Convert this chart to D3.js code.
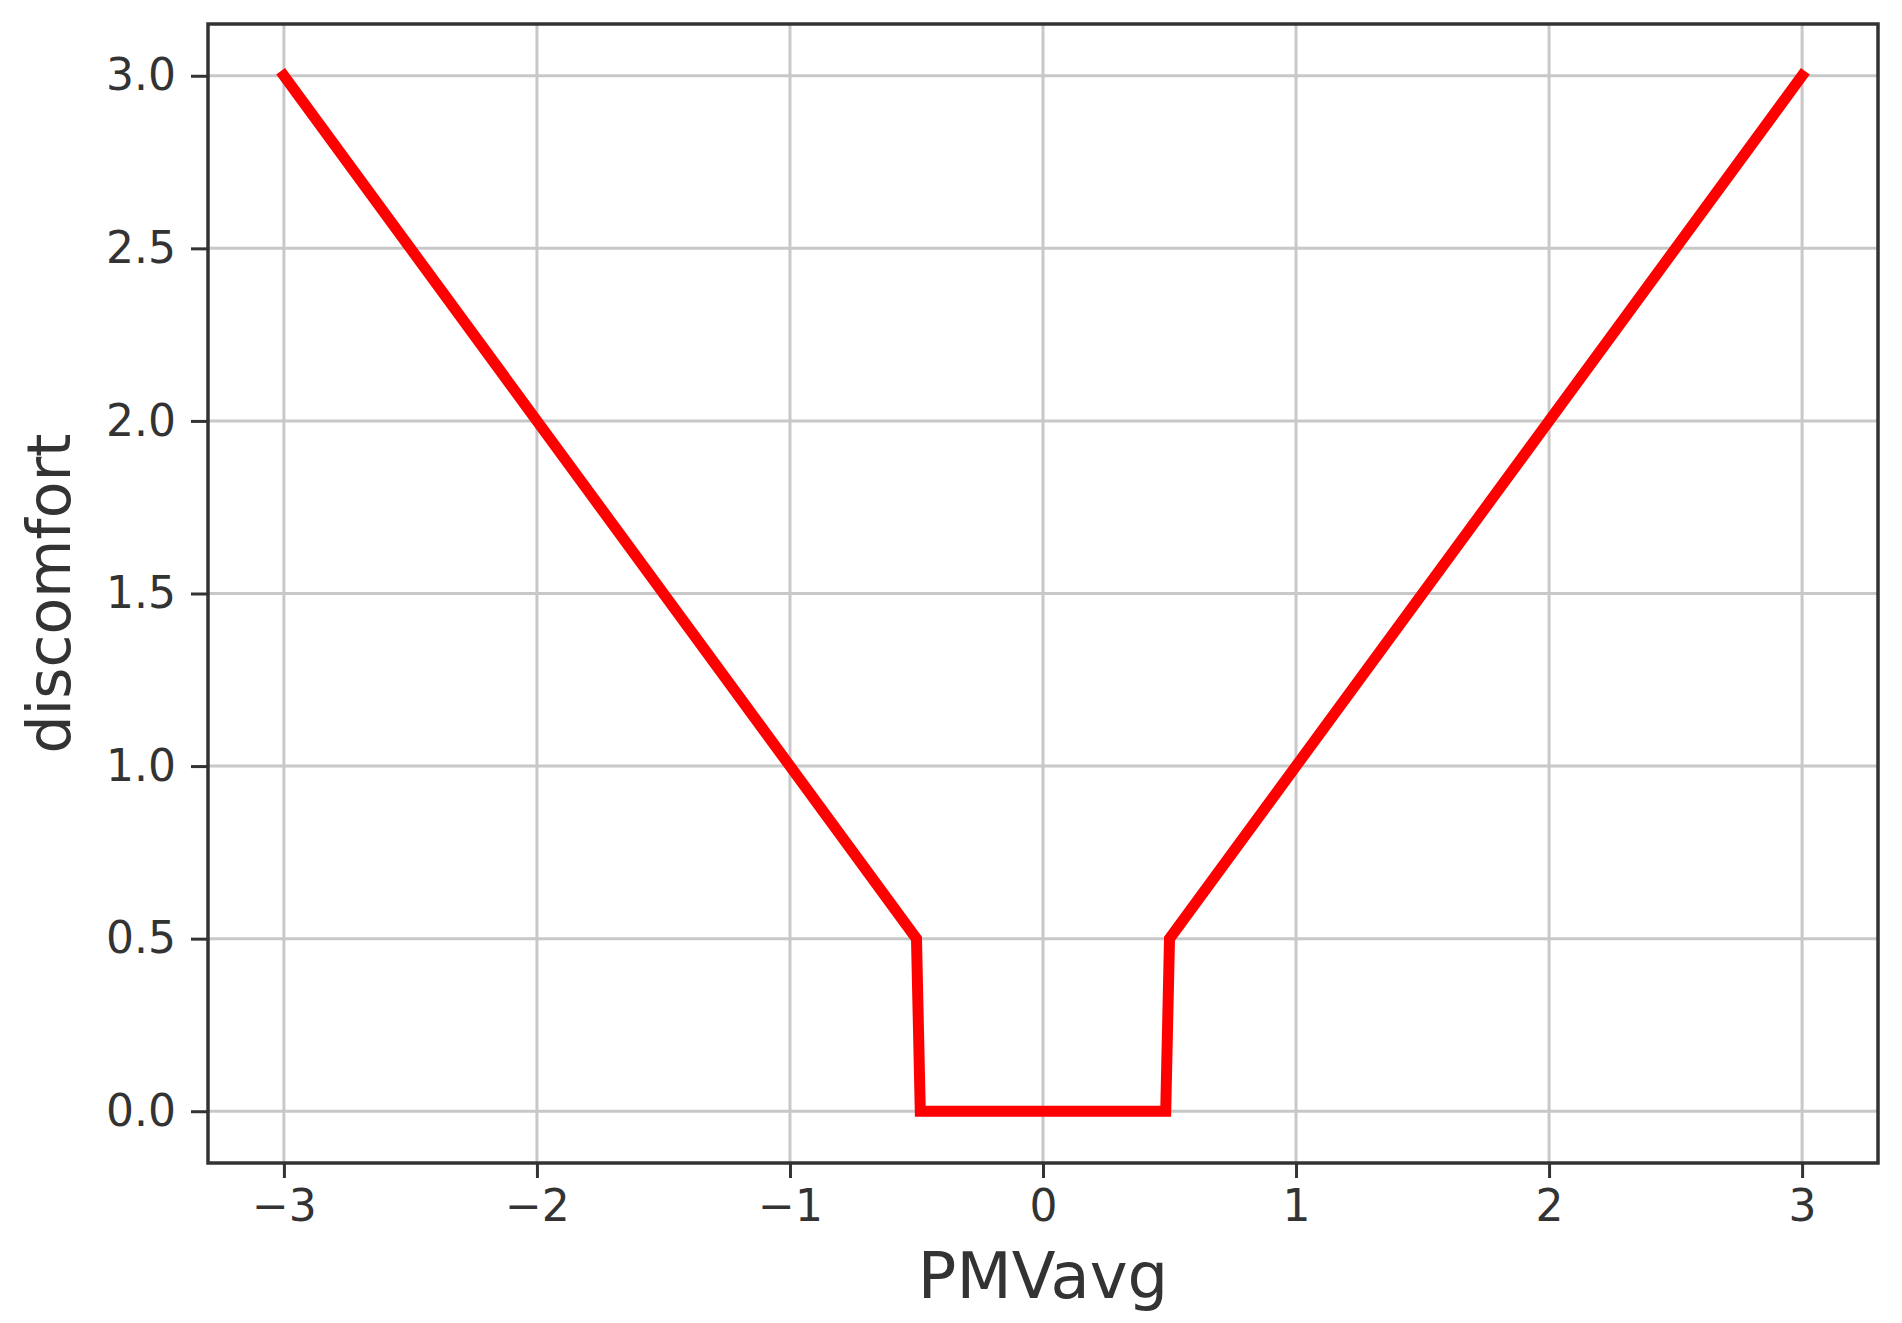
<!DOCTYPE html>
<html lang="en">
<head>
    <meta charset="UTF-8">
    <title>discomfort vs PMVavg</title>
    <script src="https://d3js.org/d3.v7.min.js"></script>
    <style>
    body{
        margin: 0;
        background: #fff;
    }
    svg text {
        font-family: "DejaVu Sans", sans-serif;
        fill: #333;
    }
    .axis path { display: none; }
    .axis line { stroke: #333; stroke-width: 3; }
    .axis text { font-size: 44px; }
    .grid line { stroke: #c8c8c8; stroke-width: 3; }
    </style>
</head>
<body>
    <script>
    var width = 1902;
    var height = 1323;
    var plotLeft = 208, plotRight = 1878, plotTop = 24, plotBottom = 1163;

    // data
    var pmv = [-3, -0.5, -0.485, 0.485, 0.5, 3];
    var discomfort = [3, 0.5, 0, 0, 0.5, 3];
    var xTicks = [-3, -2, -1, 0, 1, 2, 3];
    var yTicks = [0, 0.5, 1, 1.5, 2, 2.5, 3];

    var svg = d3.select("body")
        .append("svg")
        .attr("width", width)
        .attr("height", height);

    // scales
    var xScale = d3.scaleLinear()
        .domain([-3.3, 3.3])
        .range([plotLeft, plotRight]);

    var yScale = d3.scaleLinear()
        .domain([-0.15, 3.15])
        .range([plotBottom, plotTop]);

    // grid
    svg.append("g").attr("class", "grid")
        .selectAll("line").data(xTicks).enter()
        .append("line")
        .attr("x1", function(d) { return xScale(d); })
        .attr("x2", function(d) { return xScale(d); })
        .attr("y1", plotTop).attr("y2", plotBottom);

    svg.append("g").attr("class", "grid")
        .selectAll("line").data(yTicks).enter()
        .append("line")
        .attr("y1", function(d) { return yScale(d); })
        .attr("y2", function(d) { return yScale(d); })
        .attr("x1", plotLeft).attr("x2", plotRight);

    // axes
    var xAxis = d3.axisBottom(xScale)
        .tickValues(xTicks)
        .tickFormat(d3.format("d"))
        .tickSize(15)
        .tickPadding(12);

    var yAxis = d3.axisLeft(yScale)
        .tickValues(yTicks)
        .tickFormat(d3.format(".1f"))
        .tickSize(17)
        .tickPadding(15);

    svg.append("g")
        .attr("class", "axis")
        .attr("transform", "translate(0," + plotBottom + ")")
        .call(xAxis);

    svg.append("g")
        .attr("class", "axis")
        .attr("transform", "translate(" + plotLeft + ",0)")
        .call(yAxis);

    // line
    var line = d3.line()
        .x(function(d, i) { return xScale(pmv[i]); })
        .y(function(d, i) { return yScale(discomfort[i]); });

    svg.append("path")
        .datum(pmv)
        .attr("d", line)
        .attr("fill", "none")
        .attr("stroke", "#ff0000")
        .attr("stroke-width", 11)
        .attr("stroke-linejoin", "miter")
        .attr("stroke-linecap", "square");

    // frame
    svg.append("rect")
        .attr("x", plotLeft).attr("y", plotTop)
        .attr("width", plotRight - plotLeft).attr("height", plotBottom - plotTop)
        .attr("fill", "none")
        .attr("stroke", "#333")
        .attr("stroke-width", 3.5);

    // axis labels
    svg.append("text")
        .attr("x", (plotLeft + plotRight) / 2)
        .attr("y", 1298)
        .attr("text-anchor", "middle")
        .style("font-size", "64px")
        .text("PMVavg");

    svg.append("text")
        .attr("transform", "translate(70," + (plotTop + plotBottom) / 2 + ") rotate(-90)")
        .attr("text-anchor", "middle")
        .style("font-size", "60px")
        .text("discomfort");
    </script>
</body>
</html>
